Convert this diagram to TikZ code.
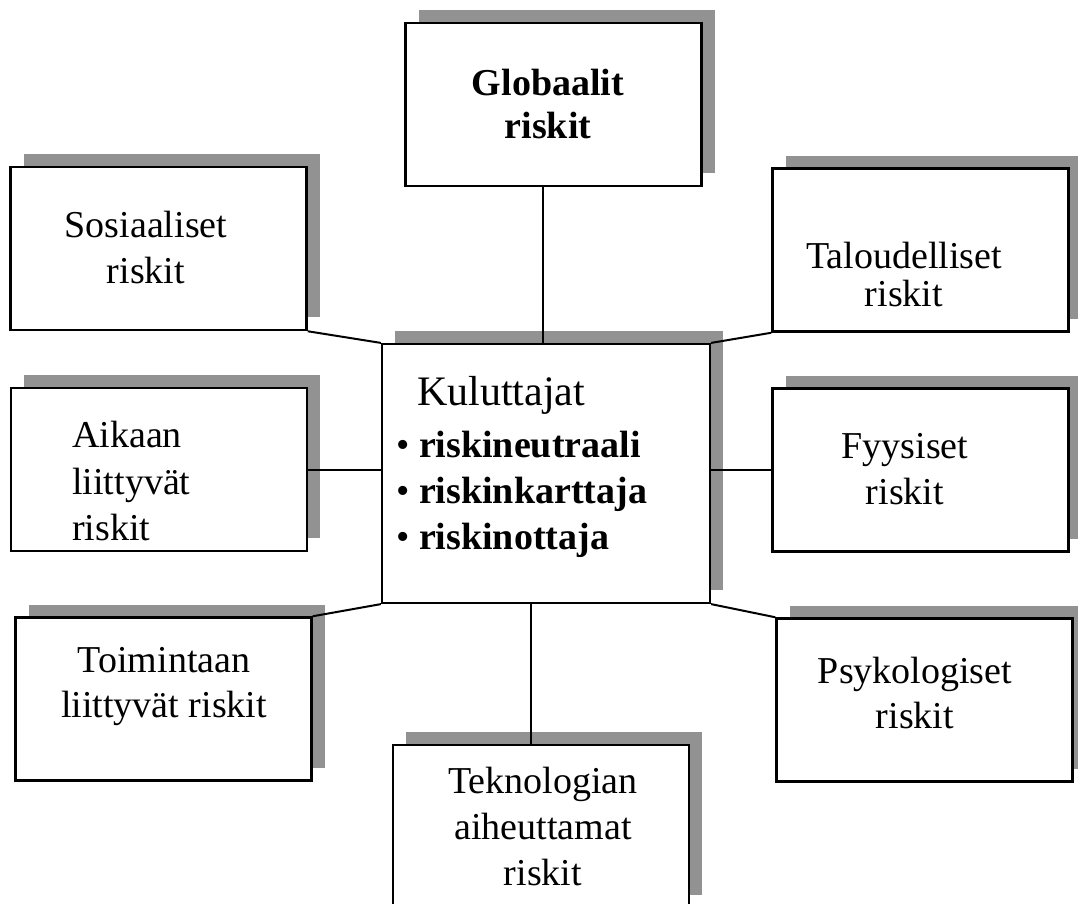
\documentclass[tikz,border=0pt]{standalone}
\usepackage{fontspec}
\setmainfont{Liberation Serif}
\usepackage{xcolor}
\usepackage{tikz}
\usetikzlibrary{shadows,positioning,calc}
\definecolor{shadowgray}{RGB}{146,146,146}
\tikzset{
  riskbox/.style={draw, line width=2.5pt, fill=white, inner sep=0pt,
    minimum width=296pt, minimum height=163pt,
    drop shadow={shadow xshift=13pt, shadow yshift=13pt, fill=shadowgray, opacity=1}},
  risktext/.style={anchor=north, align=center, inner sep=0pt},
  link/.style={line width=2pt}
}

\begin{document}
\begin{tikzpicture}[x=1pt, y=-1pt]
			\useasboundingbox (0,0) rectangle (1078,903);
			\clip (0,0) rectangle (1078,903);
			
			% Boxes round the consumer
			\node[riskbox] (glob) at (553.5,104.5) {};
			\node[riskbox] (sos) at (158.5,248.5) {};
			\node[riskbox] (tal) at (920.5,250) {};
			\node[riskbox] (aik) at (159,469.5) {};
			\node[riskbox] (fyy) at (920.5,470) {};
			\node[riskbox] (toi) at (163.5,699) {};
			\node[riskbox] (psy) at (924.5,700) {};
			\node[riskbox] (tek) at (541,826.5) {};
			
			% Consumer in the middle
			\node[riskbox, minimum width=328pt, minimum height=259pt, line width=2.2pt] (kul) at (546,473.5) {};
			
			% Texts
			\node[risktext, font=\fontsize{38}{43}\selectfont\bfseries] (glob-t) at (548,69) {Globaalit\\riskit};
			\node[risktext, font=\fontsize{38}{46}\selectfont] (sos-t) at (146,211) {Sosiaaliset\\riskit};
			\node[risktext, font=\fontsize{38}{38}\selectfont] (tal-t) at (904,242) {Taloudelliset\\riskit};
			\node[risktext, anchor=north west, align=left, font=\fontsize{38}{46.5}\selectfont] (aik-t) at (72,421) {Aikaan\\liittyvät\\riskit};
			\node[risktext, font=\fontsize{38}{46}\selectfont] (fyy-t) at (905,433) {Fyysiset\\riskit};
			\node[risktext, font=\fontsize{38}{45}\selectfont] (toi-t) at (164,647) {Toimintaan\\liittyvät riskit};
			\node[risktext, font=\fontsize{38}{45}\selectfont] (psy-t) at (915,657) {Psykologiset\\riskit};
			\node[risktext, font=\fontsize{38}{46}\selectfont] (tek-t) at (543,767) {Teknologian\\aiheuttamat\\riskit};
			\node[risktext, anchor=north west, align=left, font=\fontsize{38}{46}\selectfont] (kul-t) at (396,376)
			  {\hspace{21pt}{\fontsize{42}{46}\selectfont Kuluttajat}\\[6pt]• \textbf{riskineutraali}\\• \textbf{riskinkarttaja}\\• \textbf{riskinottaja}};
			
			% Connectors
			\draw[line width=1.2pt] ([xshift=-3pt]kul.north |- glob.south) -- ([xshift=-3pt]kul.north);
			\draw[link] (sos.south east) -- (kul.north west);
			\draw[link] (tal.south west) -- (kul.north east);
			\draw[link] (aik.east) -- (aik.east -| kul.west);
			\draw[link] (fyy.west) -- (fyy.west -| kul.east);
			\draw[link] (toi.north east) -- (kul.south west);
			\draw[link] (psy.north west) -- (kul.south east);
			\draw[line width=2.5pt] ([xshift=-10pt]tek.north |- kul.south) -- ([xshift=-10pt]tek.north);
		\end{tikzpicture}
\end{document}
